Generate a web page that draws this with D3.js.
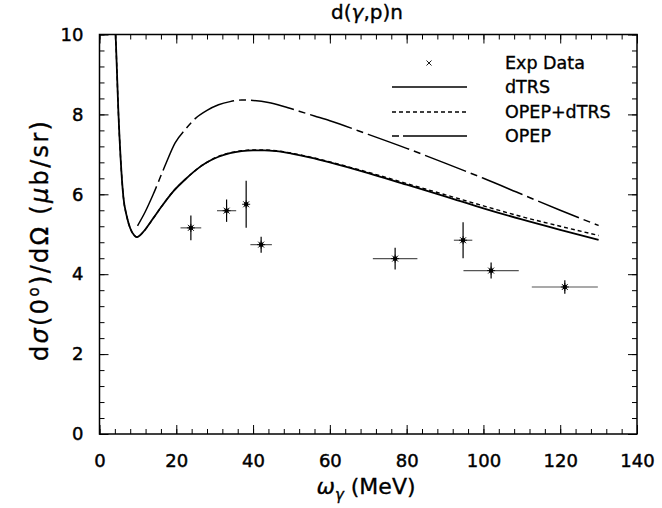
<!DOCTYPE html>
<html>
<head>
<meta charset="utf-8">
<script src="https://cdn.jsdelivr.net/npm/d3@7"></script>
<style>
  body { margin: 0; background: #fff; }
  text { font-family: "DejaVu Sans", sans-serif; fill: #000; }
</style>
</head>
<body>
<div id="chart"></div>
<script>
// experimental points (energy MeV, cross section ub/sr, half widths of error bars)
var expX  = [23.8, 33.1, 38.2, 42.1, 77.0, 94.7, 102.0, 121.2];
var expY  = [5.16, 5.59, 5.75, 4.74, 4.39, 4.85, 4.09, 3.68];
var expDx = [2.7, 2.5, 0, 2.8, 5.8, 2.4, 7.2, 8.6];
var expDy = [0.31, 0.28, 0.59, 0.20, 0.27, 0.45, 0.20, 0.17];

// dTRS
var dtrsX = [4.2, 4.5, 4.9, 5.5, 6.2, 7.1, 8, 9, 9.7, 10.5, 11.85, 14, 16.2, 19, 22.3, 25, 28, 31, 34, 37, 40, 43, 46, 50, 55, 60, 70, 80, 90, 100, 110, 120, 130];
var dtrsY = [10, 9.2, 8.1, 6.9, 5.95, 5.45, 5.15, 4.98, 4.93, 4.97, 5.11, 5.4, 5.70, 6.05, 6.37, 6.6, 6.8, 6.94, 7.03, 7.08, 7.1, 7.1, 7.08, 7.02, 6.92, 6.8, 6.53, 6.24, 5.95, 5.65, 5.37, 5.11, 4.86];

// OPEP+dTRS
var opdtX = [4.2, 4.5, 4.9, 5.5, 6.2, 7.1, 8, 9, 9.7, 10.5, 11.85, 14, 16.2, 19, 22.3, 25, 28, 31, 34, 37, 40, 43, 46, 50, 55, 60, 70, 80, 90, 100, 110, 120, 130];
var opdtY = [10, 9.2, 8.1, 6.9, 5.95, 5.45, 5.15, 4.98, 4.93, 4.97, 5.11, 5.4, 5.70, 6.05, 6.37, 6.6, 6.8, 6.95, 7.04, 7.09, 7.11, 7.11, 7.09, 7.03, 6.93, 6.81, 6.55, 6.27, 5.99, 5.71, 5.44, 5.2, 4.97];

// OPEP
var opepX = [9.9, 11.85, 14, 17, 19.7, 22.3, 25, 28, 31, 34, 37, 40, 44, 48, 52, 56, 60, 70, 80, 90, 100, 110, 120, 130];
var opepY = [5.21, 5.55, 6.0, 6.70, 7.29, 7.62, 7.9, 8.1, 8.24, 8.32, 8.36, 8.35, 8.3, 8.2, 8.08, 7.96, 7.84, 7.5, 7.15, 6.78, 6.4, 6.0, 5.6, 5.22];

var xTicks = [0, 20, 40, 60, 80, 100, 120, 140];
var yTicks = [0, 2, 4, 6, 8, 10];

var legendNames = ["Exp Data", "dTRS", "OPEP+dTRS", "OPEP"];

var margin = {top: 34.5, right: 25, bottom: 74, left: 99.5};
var W = 662, H = 508;
var width = W - margin.left - margin.right;
var height = H - margin.top - margin.bottom;

var svg = d3.select('#chart').append('svg')
  .attr('width', W).attr('height', H);

var g = svg.append('g')
  .attr('transform', 'translate(' + margin.left + ',' + margin.top + ')');

var x = d3.scaleLinear().domain([0, 140]).range([0, width]);
var y = d3.scaleLinear().domain([0, 10]).range([height, 0]);

var xMinor = d3.range(0, 141, 4);
var yMinor = d3.range(0, 10.01, 0.4);

function styleAxis(sel) {
  sel.select('.domain').remove();
  sel.selectAll('.tick line').attr('stroke', '#000').attr('stroke-width', 1);
}

function styleLabels(sel) {
  sel.selectAll('text').attr('font-size', 18).attr('fill', '#000')
    .attr('stroke', '#000').attr('stroke-width', 0.45)
    .attr('font-family', '"DejaVu Sans", sans-serif');
}

// minor ticks on all four sides
g.append('g').attr('transform', 'translate(0,' + height + ')')
  .call(d3.axisBottom(x).tickValues(xMinor).tickSize(-5).tickFormat(''))
  .call(styleAxis);
g.append('g')
  .call(d3.axisTop(x).tickValues(xMinor).tickSize(-5).tickFormat(''))
  .call(styleAxis);
g.append('g')
  .call(d3.axisLeft(y).tickValues(yMinor).tickSize(-5).tickFormat(''))
  .call(styleAxis);
g.append('g').attr('transform', 'translate(' + width + ',0)')
  .call(d3.axisRight(y).tickValues(yMinor).tickSize(-5).tickFormat(''))
  .call(styleAxis);

// major ticks + labels
g.append('g').attr('transform', 'translate(0,' + height + ')')
  .call(d3.axisBottom(x).tickValues(xTicks).tickSize(-9).tickPadding(20).tickFormat(d3.format('d')))
  .call(styleAxis)
  .call(styleLabels);
g.append('g')
  .call(d3.axisTop(x).tickValues(xTicks).tickSize(-9).tickFormat(''))
  .call(styleAxis);
g.append('g')
  .call(d3.axisLeft(y).tickValues(yTicks).tickSize(-9).tickPadding(16).tickFormat(d3.format('d')))
  .call(styleAxis)
  .call(styleLabels);
g.append('g').attr('transform', 'translate(' + width + ',0)')
  .call(d3.axisRight(y).tickValues(yTicks).tickSize(-9).tickFormat(''))
  .call(styleAxis);

// frame
g.append('rect')
  .attr('width', width).attr('height', height)
  .attr('fill', 'none').attr('stroke', '#000').attr('stroke-width', 1.5);

// curves
g.append('clipPath').attr('id', 'clip')
  .append('rect').attr('width', width).attr('height', height);

var line = d3.line()
  .x(function(d) { return x(d[0]); })
  .y(function(d) { return y(d[1]); })
  .curve(d3.curveMonotoneX);

function pairs(xs, ys) { return xs.map(function(v, i) { return [v, ys[i]]; }); }

var curves = [
  {data: pairs(opepX, opepY), dash: '44,5,7,5', w: 1.5},
  {data: pairs(opdtX, opdtY), dash: '4,3', w: 1.4},
  {data: pairs(dtrsX, dtrsY), dash: null, w: 1.8}
];

g.append('g').attr('clip-path', 'url(#clip)')
  .selectAll('path').data(curves).enter().append('path')
  .attr('d', function(d) { return line(d.data); })
  .attr('fill', 'none').attr('stroke', '#000')
  .attr('stroke-width', function(d) { return d.w; })
  .attr('stroke-dasharray', function(d) { return d.dash; });

// experimental points
var pts = g.append('g').selectAll('g').data(expX).enter().append('g');
pts.append('line')
  .attr('x1', function(d, i) { return x(d - expDx[i]); })
  .attr('x2', function(d, i) { return x(d + expDx[i]); })
  .attr('y1', function(d, i) { return y(expY[i]); })
  .attr('y2', function(d, i) { return y(expY[i]); })
  .attr('stroke', '#555').attr('stroke-width', 1.2);
pts.append('line')
  .attr('x1', function(d) { return x(d); })
  .attr('x2', function(d) { return x(d); })
  .attr('y1', function(d, i) { return y(expY[i] - expDy[i]); })
  .attr('y2', function(d, i) { return y(expY[i] + expDy[i]); })
  .attr('stroke', '#000').attr('stroke-width', 1.2);
pts.append('path')
  .attr('transform', function(d, i) { return 'translate(' + x(d) + ',' + y(expY[i]) + ')'; })
  .attr('d', 'M-3,-3L3,3M-3,3L3,-3M0,-4L0,4M-4,0L4,0')
  .attr('stroke', '#000').attr('stroke-width', 0.9);
pts.append('rect')
  .attr('x', function(d) { return x(d) - 2; })
  .attr('y', function(d, i) { return y(expY[i]) - 2; })
  .attr('width', 4).attr('height', 4).attr('fill', '#000');

// legend
var lg = svg.append('g');
var legY = [63, 87, 112, 136];
lg.selectAll('text').data(legendNames).enter().append('text')
  .attr('x', 505).attr('y', function(d, i) { return legY[i]; })
  .attr('dy', '0.35em').attr('font-size', 17.5)
  .attr('stroke', '#000').attr('stroke-width', 0.35)
  .text(function(d) { return d; });
lg.append('path')
  .attr('transform', 'translate(429,' + legY[0] + ')')
  .attr('d', 'M-2.5,-2.5L2.5,2.5M-2.5,2.5L2.5,-2.5')
  .attr('stroke', '#000').attr('stroke-width', 0.9);
var legDash = [null, '4,3', '7,4,57,0'];
lg.selectAll('line').data(legDash).enter().append('line')
  .attr('x1', 392).attr('x2', 467)
  .attr('y1', function(d, i) { return legY[i + 1]; })
  .attr('y2', function(d, i) { return legY[i + 1]; })
  .attr('stroke', '#000').attr('stroke-width', 1.3)
  .attr('stroke-dasharray', function(d) { return d; });

// title
var title = svg.append('text').attr('x', 367).attr('y', 19)
  .attr('text-anchor', 'middle').attr('font-size', 20)
  .attr('stroke', '#000').attr('stroke-width', 0.35);
title.append('tspan').text('d(');
title.append('tspan').attr('font-style', 'italic').text('γ');
title.append('tspan').text(',p)n');

// x label
var xl = svg.append('text').attr('x', 366).attr('y', 494)
  .attr('text-anchor', 'middle').attr('font-size', 22)
  .attr('stroke', '#000').attr('stroke-width', 0.35);
xl.append('tspan').attr('font-style', 'italic').text('ω');
xl.append('tspan').attr('font-style', 'italic').attr('font-size', 15).attr('dy', 6).text('γ');
xl.append('tspan').attr('dy', -6).text('\u00a0(MeV)');

// y label
var yl = svg.append('text')
  .attr('transform', 'translate(48,' + 241 + ') rotate(-90)')
  .attr('text-anchor', 'middle').attr('font-size', 24)
  .attr('textLength', 240).attr('lengthAdjust', 'spacing')
  .attr('stroke', '#000').attr('stroke-width', 0.35);
yl.append('tspan').text('d');
yl.append('tspan').attr('font-style', 'italic').text('σ');
yl.append('tspan').text('(0');
yl.append('tspan').attr('font-size', 15).attr('dy', -9).text('o');
yl.append('tspan').attr('dy', 9).text(')/dΩ (');
yl.append('tspan').attr('font-style', 'italic').text('μ');
yl.append('tspan').text('b/sr)');
</script>
</body>
</html>
